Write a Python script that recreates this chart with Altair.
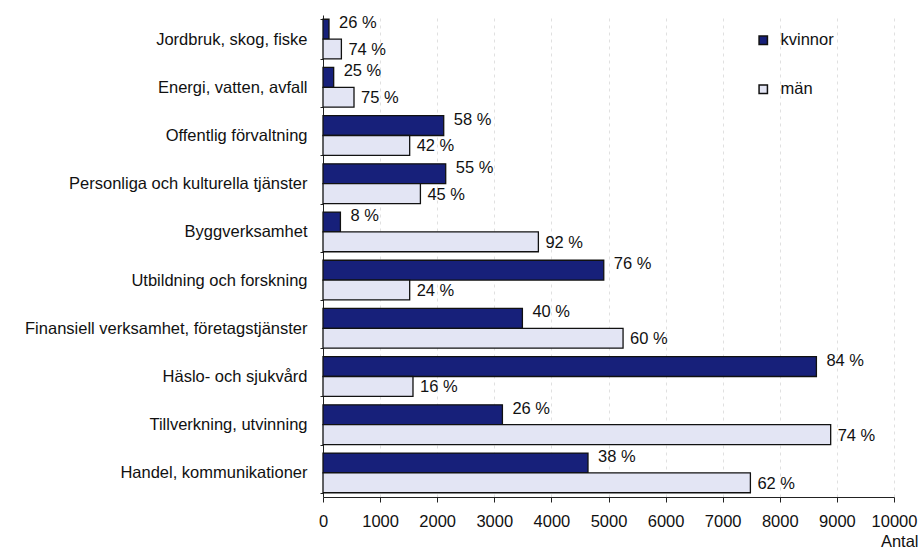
import altair as alt
import pandas as pd

kategorier = [
    "Jordbruk, skog, fiske",
    "Energi, vatten, avfall",
    "Offentlig förvaltning",
    "Personliga och kulturella tjänster",
    "Byggverksamhet",
    "Utbildning och forskning",
    "Finansiell verksamhet, företagstjänster",
    "Häslo- och sjukvård",
    "Tillverkning, utvinning",
    "Handel, kommunikationer",
]
kvinnor = [105, 187, 2114, 2149, 305, 4917, 3492, 8641, 3142, 4641]
man = [322, 543, 1518, 1706, 3772, 1518, 5255, 1576, 8891, 7485]
kvinnor_pct = ["26 %", "25 %", "58 %", "55 %", "8 %", "76 %", "40 %", "84 %", "26 %", "38 %"]
man_pct = ["74 %", "75 %", "42 %", "45 %", "92 %", "24 %", "60 %", "16 %", "74 %", "62 %"]
x_ticks = [0, 1000, 2000, 3000, 4000, 5000, 6000, 7000, 8000, 9000, 10000]

rows = []
for i, k in enumerate(kategorier):
    rows.append({"kategori": k, "kon": "kvinnor", "antal": kvinnor[i], "pct": kvinnor_pct[i]})
    rows.append({"kategori": k, "kon": "män", "antal": man[i], "pct": man_pct[i]})
df = pd.DataFrame(rows)

FONT = "Liberation Sans"
NAVY = "#17207a"
LAV = "#e3e5f4"
FS = 16.5

y_enc = alt.Y(
    "kategori:N",
    sort=kategorier,
    scale=alt.Scale(paddingInner=0.176, paddingOuter=0.088),
    axis=alt.Axis(
        title=None,
        tickBand="extent",
        tickSize=3,
        labelPadding=13,
        labelFontSize=FS,
        labelFont=FONT,
        labelColor="#111",
        labelLimit=400,
        domainColor="#222",
        tickColor="#222",
        grid=False,
    ),
)
yoff = alt.YOffset("kon:N", sort=["kvinnor", "män"], scale=alt.Scale(paddingInner=0, paddingOuter=0))
x_enc = alt.X(
    "antal:Q",
    scale=alt.Scale(domain=[0, 10000], nice=False),
    axis=alt.Axis(
        values=x_ticks,
        format="d",
        labelOverlap=False,
        labelFlush=False,
        title="Antal",
        titleAnchor="end",
        titleAlign="right",
        titleBaseline="middle",
        titleX=595,
        titleY=44,
        titleFont=FONT,
        titleFontSize=FS,
        titleFontWeight="normal",
        titleColor="#111",
        tickSize=5,
        labelPadding=11,
        labelFontSize=FS,
        labelFont=FONT,
        labelColor="#111",
        domainColor="#222",
        tickColor="#222",
        grid=True,
        gridColor="#e0e0e0",
        gridDash=[3, 4],
        gridWidth=1,
    ),
)

base = alt.Chart(df)

bars = base.mark_bar(stroke="#111", strokeWidth=1.3).encode(
    x=x_enc,
    y=y_enc,
    yOffset=yoff,
    color=alt.Color(
        "kon:N",
        scale=alt.Scale(domain=["kvinnor", "män"], range=[NAVY, LAV]),
        legend=alt.Legend(
            title=None,
            orient="none",
            legendX=432,
            legendY=17,
            symbolType="square",
            symbolSize=70,
            symbolStrokeColor="#111",
            symbolStrokeWidth=1.5,
            labelFontSize=FS,
            labelFont=FONT,
            labelColor="#111",
            labelOffset=9,
            rowPadding=32,
        ),
    ),
)

text_k = base.transform_filter(alt.datum.kon == "kvinnor").mark_text(
    align="left", baseline="middle", dx=10, dy=-6, fontSize=FS, font=FONT, color="#111"
).encode(x="antal:Q", y=alt.Y("kategori:N", sort=kategorier), yOffset=yoff, text="pct:N")

text_m = base.transform_filter(alt.datum.kon == "män").mark_text(
    align="left", baseline="middle", dx=7, dy=1, fontSize=FS, font=FONT, color="#111"
).encode(x="antal:Q", y=alt.Y("kategori:N", sort=kategorier), yOffset=yoff, text="pct:N")

chart = (
    alt.layer(bars, text_k, text_m)
    .properties(
        width=571,
        height=482,
        autosize=alt.AutoSizeParams(type="none"),
        padding={"left": 323, "top": 15, "right": 26, "bottom": 51},
        background="white",
    )
    .configure_view(stroke=None)
)

chart.save("out.html", embed_options={"renderer": "svg", "actions": False})
